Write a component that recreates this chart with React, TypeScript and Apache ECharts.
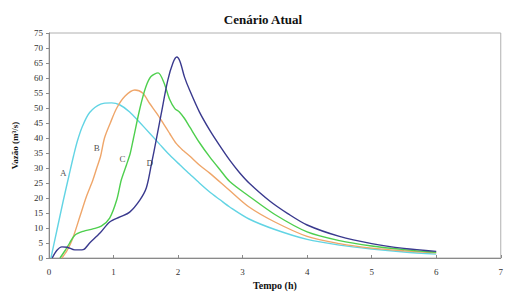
import React, { useEffect, useRef } from "react";
import * as echarts from "echarts";

const seriesNames = ["A", "B", "C", "D"];
const seriesColors = ["#62D4E4", "#EFA66A", "#4ECF4E", "#3A3A8E"];

const dataA: number[][] = [
  [0.03, 0], [0.12, 9], [0.22, 19], [0.31, 27.5], [0.38, 34], [0.44, 39], [0.52, 44],
  [0.63, 48.5], [0.8, 51.3], [0.97, 51.7], [1.1, 51], [1.25, 48.7], [1.4, 45.3],
  [1.56, 41.6], [1.72, 37.8], [1.87, 34.3], [2.03, 31], [2.18, 28], [2.33, 25], [2.49, 22],
  [2.65, 19.4], [2.8, 17], [3.1, 13], [3.5, 9.5], [4.0, 6.2], [4.5, 4.3], [5.0, 3],
  [5.5, 2], [6.0, 1.3],
];
const dataB: number[][] = [
  [0.2, 0], [0.28, 2.5], [0.37, 6.7], [0.48, 13.9], [0.58, 20.5], [0.68, 26], [0.74, 30],
  [0.8, 34], [0.86, 40], [0.95, 45], [1.05, 50], [1.18, 54], [1.33, 56], [1.45, 55],
  [1.56, 51.5], [1.67, 48.2], [1.77, 44.9], [1.87, 41.5], [1.97, 38.2], [2.08, 35.8],
  [2.18, 34], [2.33, 31], [2.49, 28.3], [2.8, 22.5], [3.1, 17], [3.5, 12], [4.0, 7.2],
  [4.5, 4.8], [5.0, 3.3], [5.5, 2.4], [6.0, 1.7],
];
const dataC: number[][] = [
  [0.17, 0], [0.25, 2.5], [0.32, 5], [0.4, 7.6], [0.53, 8.9], [0.68, 9.7], [0.81, 10.6],
  [0.94, 13.3], [1.05, 19.4], [1.12, 26], [1.2, 31], [1.26, 35], [1.31, 40], [1.41, 50],
  [1.5, 57], [1.58, 60.5], [1.69, 61.7], [1.78, 58.5], [1.87, 52.8], [1.95, 49.8],
  [2.02, 48.7], [2.1, 46.5], [2.18, 43.7], [2.33, 38.5], [2.49, 33.7], [2.65, 29.4],
  [2.8, 25.5], [3.1, 20.6], [3.5, 14.5], [4.0, 8.7], [4.5, 5.8], [5.0, 4], [5.5, 2.8],
  [6.0, 1.9],
];
const dataD: number[][] = [
  [0.05, 0], [0.12, 2.5], [0.2, 3.7], [0.28, 3.6], [0.4, 2.7], [0.53, 2.8], [0.63, 5],
  [0.79, 8.3], [0.94, 12], [1.1, 13.7], [1.25, 15.3], [1.41, 19.4], [1.51, 23.5],
  [1.59, 31.6], [1.66, 39.2], [1.74, 48.2], [1.84, 59.2], [1.92, 65], [1.98, 67],
  [2.03, 65.5], [2.1, 60.3], [2.18, 55.9], [2.33, 48.7], [2.49, 42.6], [2.64, 37.6],
  [2.8, 32.6], [2.95, 28.5], [3.1, 25], [3.42, 19], [3.7, 14.8], [4.0, 11], [4.5, 7.2],
  [5.0, 4.8], [5.5, 3.2], [6.0, 2.2],
];
const allData = [dataA, dataB, dataC, dataD];

// curve label anchor points (data coords)
const labelPoints: (number | string)[][] = [
  [0.22, 28.2, "A"],
  [0.74, 36.6, "B"],
  [1.14, 33, "C"],
  [1.56, 31.8, "D"],
];

const xTicks = [0, 1, 2, 3, 4, 5, 6, 7];
const yTicks = [0, 5, 10, 15, 20, 25, 30, 35, 40, 45, 50, 55, 60, 65, 70, 75];

const FONT = "'Liberation Serif', 'Times New Roman', serif";

export default function App() {
  const ref = useRef<HTMLDivElement>(null);
  useEffect(() => {
    document.body.style.margin = "0";
    if (!ref.current) return;
    const chart = echarts.init(ref.current, undefined, { renderer: "svg" });
    chart.setOption({
      animation: false,
      backgroundColor: "#ffffff",
      title: {
        text: "Cenário Atual",
        left: 258,
        textAlign: "center",
        top: 8,
        textStyle: { fontFamily: FONT, fontSize: 13, fontWeight: "bold", color: "#111" },
      },
      grid: {
        left: 49,
        right: 4,
        top: 33,
        bottom: 40,
        show: true,
        borderColor: "#b0b0b0",
        borderWidth: 1,
      },
      xAxis: {
        type: "value",
        min: xTicks[0],
        max: xTicks[xTicks.length - 1],
        interval: 1,
        name: "Tempo (h)",
        nameLocation: "middle",
        nameGap: 22,
        nameTextStyle: { fontFamily: FONT, fontSize: 10, fontWeight: "bold", color: "#111" },
        axisLine: { lineStyle: { color: "#8a8a8a", width: 1 } },
        axisTick: { show: true, length: 3, inside: true, lineStyle: { color: "#8a8a8a" } },
        axisLabel: { fontFamily: FONT, fontSize: 9, color: "#333", margin: 9 },
        splitLine: { show: false },
      },
      yAxis: {
        type: "value",
        min: yTicks[0],
        max: yTicks[yTicks.length - 1],
        interval: 5,
        name: "Vazão (m³/s)",
        nameLocation: "middle",
        nameGap: 30,
        nameRotate: 90,
        nameTextStyle: { fontFamily: FONT, fontSize: 9, fontWeight: "bold", color: "#111" },
        axisLine: { show: true, lineStyle: { color: "#8a8a8a", width: 1 } },
        axisTick: { show: true, length: 3, lineStyle: { color: "#8a8a8a" } },
        axisLabel: { fontFamily: FONT, fontSize: 9, color: "#333", margin: 6 },
        splitLine: { show: false },
      },
      series: [
        ...allData.map((d, i) => ({
          name: seriesNames[i],
          type: "line",
          data: d,
          smooth: 0.3,
          showSymbol: false,
          symbol: "none",
          lineStyle: { color: seriesColors[i], width: 1.4 },
          z: 2 + i,
        })),
        {
          name: "labels",
          type: "scatter",
          data: labelPoints,
          symbolSize: 0,
          silent: true,
          label: {
            show: true,
            position: "inside",
            formatter: (p: any) => p.value[2],
            fontFamily: FONT,
            fontSize: 9,
            color: "#222",
          },
          z: 10,
        },
      ],
    });
    return () => chart.dispose();
  }, []);
  return <div ref={ref} style={{ width: 506, height: 298 }} />;
}
